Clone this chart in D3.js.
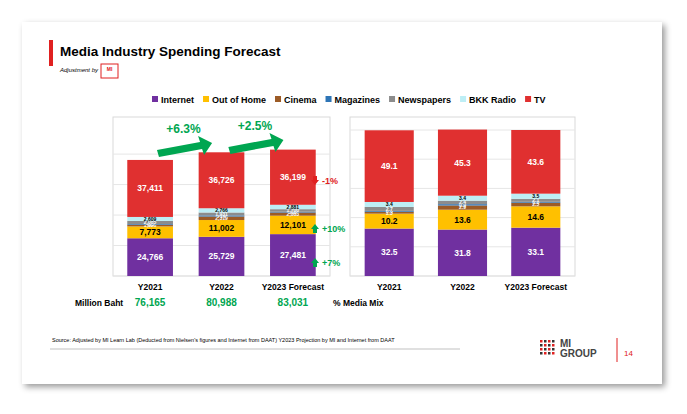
<!DOCTYPE html>
<html><head><meta charset="utf-8">
<script src="https://cdn.jsdelivr.net/npm/d3@7"></script>
<style>body{margin:0;background:#fff;font-family:Arial,"Liberation Sans",sans-serif}</style>
</head><body><svg width="687" height="414"></svg>
<script>
const years = ["Y2021", "Y2022", "Y2023 Forecast"];
const media = ["Internet", "Out of Home", "Cinema", "Magazines", "Newspapers", "BKK Radio", "TV"];
const colors = ["#7030a0", "#ffc000", "#9c5b26", "#2e75b6", "#8c8c8c", "#bdeef5", "#e03030"];
const baht = [
  [24766, 7773, 1026, 495, 2085, 2609, 37411],
  [25729, 11002, 2319, 714, 1931, 2766, 36726],
  [27481, 12101, 2083, 500, 1700, 2881, 36199]
];
const mix = [
  [32.5, 10.2, 1.3, 0.6, 2.7, 3.4, 49.1],
  [31.8, 13.6, 2.9, 0.9, 2.4, 3.4, 45.3],
  [33.1, 14.6, 2.5, 0.6, 2.1, 3.5, 43.6]
];
const totals = ["76,165", "80,988", "83,031"];
const growth = ["+6.3%", "+2.5%"];
const changes = [{t: "-1%", up: false, y: 181}, {t: "+10%", up: true, y: 229}, {t: "+7%", up: true, y: 263}];

const svg = d3.select("svg");
const base = 276;
svg.append("defs").append("filter").attr("id", "sh")
  .append("feDropShadow").attr("dx", 3).attr("dy", 3).attr("stdDeviation", 3).attr("flood-opacity", 0.4);
svg.append("rect").attr("x", 22).attr("y", 22).attr("width", 640).attr("height", 362)
  .attr("fill", "#fff").attr("filter", "url(#sh)");
svg.append("rect").attr("x", 49).attr("y", 40).attr("width", 4).attr("height", 26).attr("fill", "#e02020");
svg.append("text").attr("x", 60).attr("y", 56).attr("font-size", 13.5).attr("font-weight", "bold").text("Media Industry Spending Forecast");
svg.append("text").attr("x", 60).attr("y", 72).attr("font-size", 6).attr("font-style", "italic").text("Adjustment by");
svg.append("rect").attr("x", 101).attr("y", 64).attr("width", 17).attr("height", 14).attr("fill", "#fff").attr("stroke", "#e02020");
svg.append("text").attr("x", 109.5).attr("y", 71).attr("font-size", 5).attr("fill", "#e02020").attr("font-weight", "bold").attr("text-anchor", "middle").text("MI");

let lx = 152;
media.forEach((m, i) => {
  svg.append("rect").attr("x", lx).attr("y", 96).attr("width", 6).attr("height", 6).attr("fill", colors[i]);
  const t = svg.append("text").attr("x", lx + 9).attr("y", 102.5).attr("font-size", 9).attr("font-weight", "bold").text(m);
  lx += 9 + t.node().getComputedTextLength() + 9;
});

function chart(data, x0, x1, yMax, fmt, pad) {
  const x = d3.scaleBand().domain(years).range([x0, x1]).paddingInner(pad).paddingOuter(0.2);
  const y = d3.scaleLinear().domain([0, yMax]).range([base, 125]);
  const g = svg.append("g");
  g.append("rect").attr("x", x0).attr("y", 117).attr("width", x1 - x0).attr("height", base - 117).attr("fill", "none").attr("stroke", "#d9d9d9");
  y.ticks(7).forEach(v => g.append("line").attr("x1", x0).attr("x2", x1).attr("y1", y(v)).attr("y2", y(v)).attr("stroke", "#e6e6e6"));
  data.forEach((row, j) => {
    let acc = 0;
    row.forEach((v, i) => {
      const yt = y(acc + v), yb = y(acc);
      g.append("rect").attr("x", x(years[j])).attr("width", x.bandwidth()).attr("y", yt).attr("height", yb - yt).attr("fill", colors[i]);
      const big = i === 0 || i === 1 || i === 6;
      g.append("text").attr("x", x(years[j]) + x.bandwidth() / 2).attr("y", (yt + yb) / 2 + (big ? 3 : 1.8))
        .attr("text-anchor", "middle").attr("font-size", big ? 8.5 : 5).attr("font-weight", "bold")
        .attr("fill", i === 1 || i === 5 ? "#000" : "#fff").text(fmt(v));
      acc += v;
    });
    g.append("text").attr("x", x(years[j]) + x.bandwidth() / 2).attr("y", 290).attr("text-anchor", "middle")
      .attr("font-size", 8.5).attr("font-weight", "bold").text(years[j]);
  });
  return {x, y};
}
const left = chart(baht, 113, 330, 99100, d3.format(","), 0.36);
const right = chart(mix, 350, 575, 100 * 151 / 146, d => d.toFixed(1), 0.33);

growth.forEach((t, k) => {
  const xa = left.x(years[k]) + left.x.bandwidth() * 0.65, xb = left.x(years[k + 1]) + left.x.bandwidth() * 0.25;
  const ya = 150 - k * 3;
  svg.append("path").attr("fill", "#00a651")
    .attr("d", `M${xa},${ya} L${xb - 10},${ya - 8} L${xb - 12},${ya - 14} L${xb + 2},${ya - 7} L${xb - 6},${ya + 5} L${xb - 8},${ya - 1} L${xa + 2},${ya + 7} Z`);
  svg.append("text").attr("x", (xa + xb) / 2).attr("y", ya - 17).attr("text-anchor", "middle")
    .attr("font-size", 12).attr("font-weight", "bold").attr("fill", "#00a651").text(t);
});
changes.forEach(c => {
  const yc = c.y;
  const col = c.up ? "#00a651" : "#e02020", xc = 315;
  svg.append("path").attr("fill", col).attr("d", c.up
    ? `M${xc - 2},${yc + 4} v-4 h-2 l4,-5 l4,5 h-2 v4 Z`
    : `M${xc - 2},${yc - 5} v4 h-2 l4,5 l4,-5 h-2 v-4 Z`);
  svg.append("text").attr("x", xc + 7).attr("y", yc + 3).attr("font-size", 9).attr("font-weight", "bold").attr("fill", col).text(c.t);
});

svg.append("text").attr("x", 75).attr("y", 306).attr("font-size", 8.5).attr("font-weight", "bold").text("Million Baht");
totals.forEach((t, j) => svg.append("text").attr("x", left.x(years[j]) + left.x.bandwidth() / 2).attr("y", 306)
  .attr("text-anchor", "middle").attr("font-size", 10).attr("font-weight", "bold").attr("fill", "#00a651").text(t));
svg.append("text").attr("x", 333).attr("y", 306).attr("font-size", 8.5).attr("font-weight", "bold").text("% Media Mix");

svg.append("text").attr("x", 52).attr("y", 342).attr("font-size", 5.5)
  .text("Source: Adjusted by MI Learn Lab (Deducted  from Nielsen's figures and Internet from DAAT) Y2023 Projection by MI and Internet from DAAT");
svg.append("line").attr("x1", 50).attr("x2", 460).attr("y1", 349).attr("y2", 349).attr("stroke", "#999").attr("stroke-width", 0.6);
for (let r = 0; r < 4; r++) for (let c = 0; c < 4; c++)
  svg.append("rect").attr("x", 540 + c * 4).attr("y", 340 + r * 4).attr("width", 2.5).attr("height", 2.5).attr("fill", (r + c) % 2 ? "#333" : "#e02020");
svg.append("text").attr("x", 560).attr("y", 347).attr("font-size", 10).attr("font-weight", "bold").attr("fill", "#444").text("MI");
svg.append("text").attr("x", 560).attr("y", 357).attr("font-size", 10).attr("font-weight", "bold").attr("fill", "#444").text("GROUP");
svg.append("line").attr("x1", 617).attr("x2", 617).attr("y1", 338).attr("y2", 362).attr("stroke", "#e02020");
svg.append("text").attr("x", 624).attr("y", 356).attr("font-size", 8).attr("fill", "#e02020").text("14");
</script></body></html>
